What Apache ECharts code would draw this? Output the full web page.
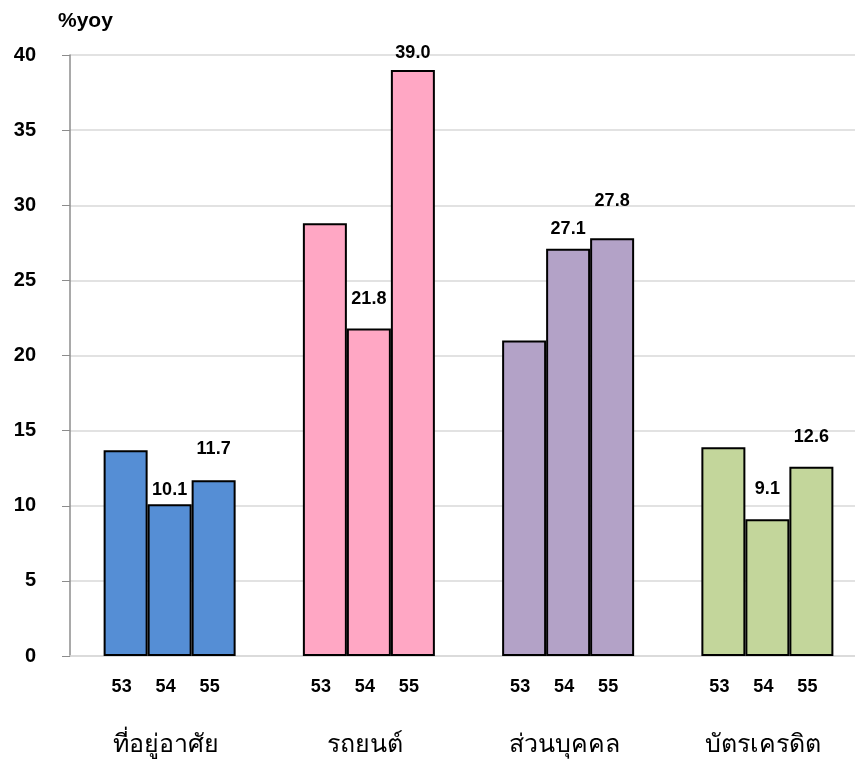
<!DOCTYPE html>
<html>
<head>
<meta charset="utf-8">
<script src="https://cdn.jsdelivr.net/npm/echarts@6/dist/echarts.min.js"></script>
<style>html,body{margin:0;padding:0;background:#fff;}#c{width:855px;height:767px;}</style>
</head>
<body>
<div id="c"></div>
<script>
const categories = ['ที่อยู่อาศัย', 'รถยนต์', 'ส่วนบุคคล', 'บัตรเครดิต'];
const years = ['53', '54', '55'];
const values53 = [13.7, 28.8, 21.0, 13.9];
const values54 = [10.1, 21.8, 27.1, 9.1];
const values55 = [11.7, 39.0, 27.8, 12.6];
const showLabel = [false, true, true];
const yTicks = [0, 5, 10, 15, 20, 25, 30, 35, 40];

const groupColors = ['#558ED5', '#FFA7C4', '#B3A2C7', '#C3D69B'];
const labelDist = [[0,0,0,0],[5,20,11,21],[22,8,28,21]];
const FONT = '"Liberation Sans", Arial, sans-serif';
const THAI = 'Tahoma, "DejaVu Sans", "Noto Sans", sans-serif';

const seriesVals = [values53, values54, values55];
const chart = echarts.init(document.getElementById('c'));
chart.setOption({
  animation: false,
  title: { text: '%yoy', left: 53, top: 6, textStyle: { fontFamily: FONT, fontWeight: 'bold', fontSize: 21, color: '#000' } },
  grid: { left: 70, top: 55, width: 797, height: 601, containLabel: false, outerBoundsMode: 'none' },
  xAxis: {
    type: 'category', data: categories,
    axisLine: { lineStyle: { color: '#d9d9d9', width: 1.5 } },
    axisTick: { show: false },
    axisLabel: {
      margin: 21, interval: 0, padding: [0, 8, 0, 0],
      formatter: function (v) { return years.map(y => '{y|' + y + '}').join('') + '\n{c|' + v + '}'; },
      rich: {
        y: { width: 44, align: 'center', fontFamily: FONT, fontWeight: 'bold', fontSize: 18, color: '#000', lineHeight: 20 },
        c: { fontFamily: THAI, fontSize: 25, color: '#000', lineHeight: 97 }
      }
    }
  },
  yAxis: {
    type: 'value', min: yTicks[0], max: yTicks[yTicks.length - 1], interval: 5,
    axisLine: { show: true, lineStyle: { color: '#8c8c8c', width: 1.5 } },
    axisTick: { show: true, length: 8, lineStyle: { color: '#8c8c8c' } },
    splitLine: { lineStyle: { color: '#d9d9d9', width: 1.5 } },
    axisLabel: { margin: 34, fontFamily: FONT, fontWeight: 'bold', fontSize: 20, color: '#000' }
  },
  series: seriesVals.map((vals, si) => ({
    type: 'bar', name: years[si],
    barWidth: 44, barGap: '0%',
    data: vals.map((v, i) => ({
      value: v,
      itemStyle: { color: groupColors[i], borderColor: '#000', borderWidth: 2 },
      label: { show: showLabel[si], position: 'top', distance: labelDist[si][i],
        formatter: p => p.value.toFixed(1), fontFamily: FONT, fontWeight: 'bold', fontSize: 18, color: '#000' }
    }))
  }))
});
</script>
</body>
</html>
